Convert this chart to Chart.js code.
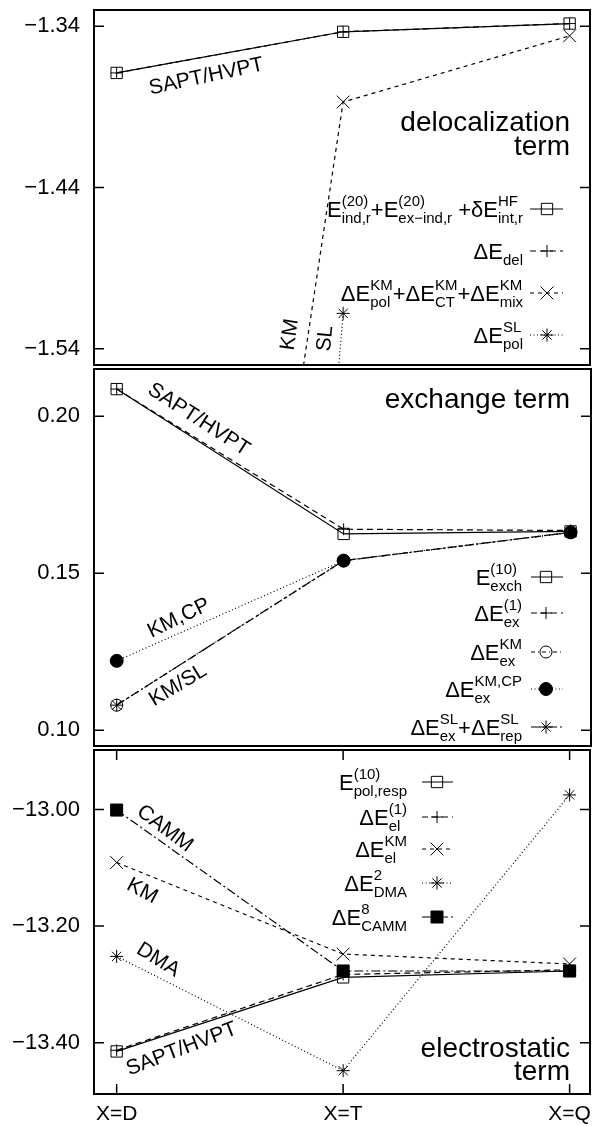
<!DOCTYPE html>
<html>
<head>
<meta charset="utf-8">
<script src="https://cdn.jsdelivr.net/npm/chart.js@4/dist/chart.umd.min.js"></script>
<style>
  html, body { margin: 0; padding: 0; background: #fff; }
  #wrap { position: relative; width: 600px; height: 1126px; }
  .panel { position: absolute; left: 0; width: 600px; }
</style>
</head>
<body>
<div id="wrap">
  <div class="panel" style="top:0;height:375px"><canvas id="c-del"></canvas></div>
  <div class="panel" style="top:360px;height:395px"><canvas id="c-ex"></canvas></div>
  <div class="panel" style="top:740px;height:386px"><canvas id="c-el"></canvas></div>
</div>
<script>
const FONT = '"Liberation Sans", Arial, Helvetica, sans-serif';

const xLabels = ["X=D", "X=T", "X=Q"];
const xPos = [0, 1, 2];

// delocalization term
const delTicks = [-1.54, -1.44, -1.34];
const delSAPT = [-1.369, -1.3435, -1.3384];
const delDel = [-1.369, -1.3435, -1.3384];
const delKM = [-2.32, -1.387, -1.346];
const delSL = [-3.2, -1.518, null];
const delNames = [
  [["E", "(20)", "ind,r"], ["+E", "(20)", "ex\u2212ind,r"], [" +\u03b4E", "HF", "int,r"]],
  [["\u0394E", "", "del"]],
  [["\u0394E", "KM", "pol"], ["+\u0394E", "KM", "CT"], ["+\u0394E", "KM", "mix"]],
  [["\u0394E", "SL", "pol"]],
];

// exchange term
const exTicks = [0.10, 0.15, 0.20];
const exExch = [0.2086, 0.1625, 0.1633];
const exE1 = [0.2086, 0.1640, 0.1636];
const exKM = [0.1080, 0.1540, 0.1630];
const exKMCP = [0.1221, 0.1540, 0.1630];
const exSL = [0.1080, 0.1540, 0.1630];
const exNames = [
  [["E", "(10)", "exch"]],
  [["\u0394E", "(1)", "ex"]],
  [["\u0394E", "KM", "ex"]],
  [["\u0394E", "KM,CP", "ex"]],
  [["\u0394E", "SL", "ex"], ["+\u0394E", "SL", "rep"]],
];

// electrostatic term
const elTicks = [-13.40, -13.20, -13.00];
const elPol = [-13.415, -13.288, -13.277];
const elE1 = [-13.413, -13.283, -13.275];
const elKM = [-13.091, -13.248, -13.265];
const elDMA = [-13.252, -13.448, -12.975];
const elCAMM = [-13.001, -13.277, -13.277];
const elNames = [
  [["E", "(10)", "pol,resp"]],
  [["\u0394E", "(1)", "el"]],
  [["\u0394E", "KM", "el"]],
  [["\u0394E", "2", "DMA"]],
  [["\u0394E", "8", "CAMM"]],
];

const DASH = {
  solid: [],
  dash: [6, 4],
  short: [4, 4],
  dot: [1, 2.5],
  dashdot: [9, 3, 2, 3],
  dashdot2: [4, 3, 1, 3],
};

function ds(values, pointStyle, dash, r, filled) {
  return {
    data: xPos.map((x, i) => ({ x, y: values[i] })),
    borderColor: "#000",
    borderWidth: 1.2,
    borderDash: dash,
    pointStyle,
    pointRadius: r,
    pointBorderWidth: 1,
    pointBorderColor: "#000",
    pointBackgroundColor: filled ? "#000" : "rgba(0,0,0,0)",
    fill: false,
    tension: 0,
    spanGaps: false,
  };
}

function drawRich(ctx, segs, right, y) {
  const big = `22px ${FONT}`;
  const small = `15px ${FONT}`;
  const parts = segs.map(([b, sup, sub]) => {
    ctx.font = big;
    const wb = ctx.measureText(b).width;
    ctx.font = small;
    const ws = Math.max(ctx.measureText(sup).width, ctx.measureText(sub).width);
    return { b, sup, sub, wb, ws };
  });
  let x = right - parts.reduce((s, p) => s + p.wb + p.ws, 0);
  ctx.textAlign = "left";
  ctx.textBaseline = "alphabetic";
  parts.forEach((p) => {
    ctx.font = big;
    ctx.fillText(p.b, x, y + 8);
    ctx.font = small;
    ctx.fillText(p.sup, x + p.wb, y - 3);
    ctx.fillText(p.sub, x + p.wb, y + 14);
    x += p.wb + p.ws;
  });
}

// frame, mirrored inward ticks, title, labels and key (gnuplot look)
function decor(conf) {
  return {
    id: "decor",
    afterDatasetsDraw(chart) {
      const { ctx, chartArea: a } = chart;
      const { x, y } = chart.scales;
      const off = conf.top;
      ctx.save();
      ctx.strokeStyle = "#000";
      ctx.fillStyle = "#000";

      ctx.lineWidth = 2;
      ctx.strokeRect(a.left, a.top, a.right - a.left, a.bottom - a.top);

      ctx.lineWidth = 1.5;
      ctx.beginPath();
      y.ticks.forEach((t) => {
        const py = y.getPixelForValue(t.value);
        ctx.moveTo(a.left, py); ctx.lineTo(a.left + 10, py);
        ctx.moveTo(a.right, py); ctx.lineTo(a.right - 10, py);
      });
      if (conf.xTicks) {
        x.ticks.forEach((t) => {
          const px = x.getPixelForValue(t.value);
          ctx.moveTo(px, a.bottom); ctx.lineTo(px, a.bottom - 10);
          ctx.moveTo(px, a.top); ctx.lineTo(px, a.top + 10);
        });
      }
      ctx.stroke();

      ctx.font = `28px ${FONT}`;
      ctx.textAlign = "right";
      ctx.textBaseline = "alphabetic";
      conf.title.forEach((line, i) => ctx.fillText(line, conf.titleX, conf.titleY[i] - off));

      ctx.font = `21px ${FONT}`;
      ctx.textAlign = "center";
      ctx.textBaseline = "middle";
      conf.notes.forEach((n) => {
        ctx.save();
        ctx.translate(x.getPixelForValue(n.x), y.getPixelForValue(n.y));
        ctx.rotate((n.a * Math.PI) / 180);
        ctx.fillText(n.t, 0, 0);
        ctx.restore();
      });

      const k = conf.key;
      k.rows.forEach((py, i) => {
        const yy = py - off;
        const d = chart.data.datasets[i];
        ctx.fillStyle = "#000";
        drawRich(ctx, k.names[i], k.textRight, yy);
        ctx.lineWidth = 1;
        ctx.setLineDash(d.borderDash || []);
        ctx.beginPath();
        ctx.moveTo(k.s0, yy);
        ctx.lineTo(k.s1, yy);
        ctx.stroke();
        ctx.setLineDash([]);
        ctx.fillStyle = d.pointBackgroundColor;
        Chart.helpers.drawPoint(ctx, { pointStyle: d.pointStyle, radius: d.pointRadius, rotation: 0, borderWidth: 1 }, k.m, yy);
      });
      ctx.restore();
    },
  };
}

function makeChart(id, o) {
  return new Chart(document.getElementById(id), {
    type: "line",
    data: { datasets: o.datasets },
    options: {
      responsive: true,
      maintainAspectRatio: false,
      animation: false,
      layout: { padding: o.pad },
      plugins: { legend: { display: false }, tooltip: { enabled: false } },
      scales: {
        x: {
          type: "linear",
          min: -0.1,
          max: 2.09,
          display: o.showX,
          afterBuildTicks: (s) => { s.ticks = xPos.map((v) => ({ value: v })); },
          afterFit: (s) => { s.height = o.showX ? 32 : 0; s.paddingLeft = 0; s.paddingRight = 0; },
          grid: { display: false },
          border: { display: false },
          ticks: {
            color: "#000",
            font: { family: FONT, size: 21 },
            padding: 0,
            maxRotation: 0,
            autoSkip: false,
            callback: (v) => xLabels[v],
          },
        },
        y: {
          type: "linear",
          min: o.yMin,
          max: o.yMax,
          afterBuildTicks: (s) => { s.ticks = o.yTicks.map((v) => ({ value: v })); },
          afterFit: (s) => { s.width = 94; s.paddingTop = 0; s.paddingBottom = 0; },
          grid: { display: false, drawTicks: false },
          border: { display: false },
          ticks: {
            color: "#000",
            font: { family: FONT, size: 22 },
            padding: 14,
            callback: (v) => (v < 0 ? "\u2212" : "") + Math.abs(v).toFixed(2),
          },
        },
      },
    },
    plugins: [decor(o.decor)],
  });
}

makeChart("c-del", {
  datasets: [
    ds(delSAPT, "rect", DASH.solid, 8, false),
    ds(delDel, "cross", DASH.dash, 6, false),
    ds(delKM, "crossRot", DASH.short, 9, false),
    ds(delSL, "star", DASH.dot, 6.5, false),
  ],
  yMin: -1.55, yMax: -1.33, yTicks: delTicks, showX: false,
  pad: { top: 9, right: 2, bottom: 8, left: 0 },
  decor: {
    top: 0, xTicks: false,
    title: ["delocalization", "term"], titleX: 570, titleY: [131, 155],
    notes: [
      { t: "SAPT/HVPT", x: 0.396, y: -1.3713, a: -12 },
      { t: "KM", x: 0.765, y: -1.5311, a: -82 },
      { t: "SL", x: 0.922, y: -1.5336, a: -85 },
    ],
    key: { names: delNames, rows: [209, 251, 293, 335], textRight: 523, s0: 530, s1: 563, m: 547 },
  },
});

makeChart("c-ex", {
  datasets: [
    ds(exExch, "rect", DASH.solid, 8, false),
    ds(exE1, "cross", DASH.dash, 6, false),
    ds(exKM, "circle", DASH.dashdot2, 6, false),
    ds(exKMCP, "circle", DASH.dot, 6.5, true),
    ds(exSL, "star", DASH.dashdot, 6.5, false),
  ],
  yMin: 0.095, yMax: 0.215, yTicks: exTicks, showX: false,
  pad: { top: 7, right: 2, bottom: 8, left: 0 },
  decor: {
    top: 360, xTicks: false,
    title: ["exchange term"], titleX: 570, titleY: [408],
    notes: [
      { t: "SAPT/HVPT", x: 0.361, y: 0.1989, a: 33 },
      { t: "KM,CP", x: 0.274, y: 0.1357, a: -26 },
      { t: "KM/SL", x: 0.27, y: 0.1143, a: -31 },
    ],
    key: { names: exNames, rows: [577, 613, 652, 689, 727], textRight: 522, s0: 531, s1: 563, m: 546 },
  },
});

makeChart("c-el", {
  datasets: [
    ds(elPol, "rect", DASH.solid, 8, false),
    ds(elE1, "cross", DASH.dash, 6, false),
    ds(elKM, "crossRot", DASH.short, 9, false),
    ds(elDMA, "star", DASH.dot, 6.5, false),
    ds(elCAMM, "rect", DASH.dashdot, 8.5, true),
  ],
  yMin: -13.488, yMax: -12.898, yTicks: elTicks, showX: true,
  pad: { top: 7, right: 2, bottom: 0, left: 0 },
  decor: {
    top: 740, xTicks: true,
    title: ["electrostatic", "term"], titleX: 570, titleY: [1057, 1080],
    notes: [
      { t: "CAMM", x: 0.213, y: -13.033, a: 37 },
      { t: "KM", x: 0.113, y: -13.14, a: 28 },
      { t: "DMA", x: 0.183, y: -13.258, a: 32 },
      { t: "SAPT/HVPT", x: 0.287, y: -13.411, a: -21 },
    ],
    key: { names: elNames, rows: [782, 817, 849, 883, 917], textRight: 407, s0: 422, s1: 453, m: 437 },
  },
});
</script>
</body>
</html>
